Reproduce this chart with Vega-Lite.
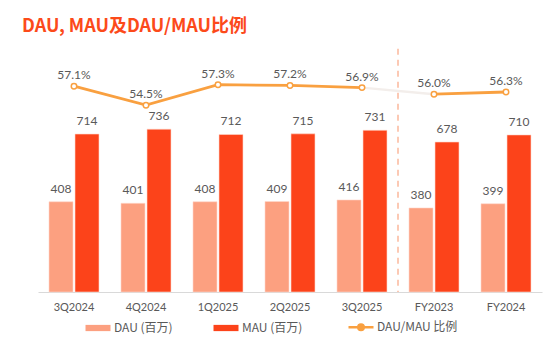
{
  "$schema": "https://vega.github.io/schema/vega-lite/v6.json",
  "width": 504,
  "height": 250,
  "autosize": "none",
  "padding": {"left": 38, "top": 42, "right": 16, "bottom": 60},
  "background": "white",
  "title": {
    "text": "DAU, MAU及DAU/MAU比例",
    "anchor": "start",
    "frame": "group",
    "dx": -16,
    "offset": 6,
    "font": "Noto Sans CJK SC",
    "fontSize": 18,
    "fontWeight": "bold",
    "color": "#FC4A1A"
  },
  "config": {
    "view": {"stroke": null},
    "font": "Lato",
    "axis": {"labelFont": "Lato", "labelColor": "#595959"},
    "legend": {"labelFont": "Noto Sans CJK SC", "labelColor": "#595959"}
  },
  "datasets": {
    "bars": [
      {"period": "3Q2024", "series": "DAU (百万)", "value": 408},
      {"period": "3Q2024", "series": "MAU (百万)", "value": 714},
      {"period": "4Q2024", "series": "DAU (百万)", "value": 401},
      {"period": "4Q2024", "series": "MAU (百万)", "value": 736},
      {"period": "1Q2025", "series": "DAU (百万)", "value": 408},
      {"period": "1Q2025", "series": "MAU (百万)", "value": 712},
      {"period": "2Q2025", "series": "DAU (百万)", "value": 409},
      {"period": "2Q2025", "series": "MAU (百万)", "value": 715},
      {"period": "3Q2025", "series": "DAU (百万)", "value": 416},
      {"period": "3Q2025", "series": "MAU (百万)", "value": 731},
      {"period": "FY2023", "series": "DAU (百万)", "value": 380},
      {"period": "FY2023", "series": "MAU (百万)", "value": 678},
      {"period": "FY2024", "series": "DAU (百万)", "value": 399},
      {"period": "FY2024", "series": "MAU (百万)", "value": 710}
    ],
    "ratio": [
      {"period": "3Q2024", "ratio": 0.571, "seg": "A"},
      {"period": "4Q2024", "ratio": 0.545, "seg": "A"},
      {"period": "1Q2025", "ratio": 0.573, "seg": "A"},
      {"period": "2Q2025", "ratio": 0.572, "seg": "A"},
      {"period": "3Q2025", "ratio": 0.569, "seg": "A"},
      {"period": "FY2023", "ratio": 0.560, "seg": "B"},
      {"period": "FY2024", "ratio": 0.563, "seg": "B"}
    ],
    "gap": [
      {"period": "3Q2025", "ratio": 0.569},
      {"period": "FY2023", "ratio": 0.560}
    ],
    "divider": [
      {"period": "FY2023", "top": 1100, "bottom": 0}
    ]
  },
  "encoding": {
    "x": {
      "field": "period",
      "type": "nominal",
      "sort": null,
      "scale": {"domain": ["3Q2024", "4Q2024", "1Q2025", "2Q2025", "3Q2025", "FY2023", "FY2024"], "paddingInner": 0, "paddingOuter": 0},
      "axis": {
        "title": null,
        "labelAngle": 0,
        "ticks": false,
        "labelPadding": 9,
        "labelFontSize": 11,
        "domainColor": "#D9D9D9",
        "domainWidth": 1
      }
    }
  },
  "layer": [
    {
      "data": {"name": "bars"},
      "layer": [
        {
          "mark": {"type": "bar", "stroke": "#FFD9CC", "strokeWidth": 0.6},
          "encoding": {
            "xOffset": {"field": "series", "type": "nominal", "scale": {"paddingInner": 0.077, "paddingOuter": 0.423}},
            "y": {"field": "value", "type": "quantitative", "scale": {"domain": [0, 1130], "nice": false}, "axis": null},
            "color": {
              "field": "series",
              "type": "nominal",
              "scale": {"domain": ["DAU (百万)", "MAU (百万)", "DAU/MAU 比例"], "range": ["#FCA080", "#FC431A", "#F9A040"]},
              "legend": {
                "title": null,
                "orient": "none",
                "legendX": 54,
                "legendY": 279,
                "direction": "horizontal",
                "labelFontSize": 12,
                "symbolSize": 625,
                "columnPadding": 40,
                "labelOffset": 10,
                "symbolStrokeWidth": 2.5,
                "encode": {
                  "symbols": {
                    "update": {
                      "shape": {"signal": "datum.value === 'DAU/MAU 比例' ? 'M-1,0H-0.22M0.22,0H1M-0.22,0A0.22,0.22 0 1,1 0.22,0A0.22,0.22 0 1,1 -0.22,0Z' : 'M-1,-0.25H1V0.25H-1Z'"},
                      "fill": {"signal": "datum.value === 'DAU/MAU 比例' ? '#ffffff' : (datum.value === 'DAU (百万)' ? '#FCA080' : '#FC431A')"},
                      "stroke": {"signal": "datum.value === 'DAU/MAU 比例' ? '#F9A040' : (datum.value === 'DAU (百万)' ? '#FCA080' : '#FC431A')"},
                      "strokeWidth": {"signal": "datum.value === 'DAU/MAU 比例' ? 2.5 : 0"},
                      "opacity": {"value": 1}
                    }
                  }
                }
              }
            }
          }
        },
        {
          "mark": {"type": "text", "baseline": "bottom", "dy": -6, "fontSize": 12, "color": "#595959", "font": "Lato"},
          "encoding": {
            "xOffset": {"field": "series", "type": "nominal", "scale": {"paddingInner": 0.077, "paddingOuter": 0.423}},
            "y": {"field": "value", "type": "quantitative"},
            "text": {"field": "value", "type": "quantitative"}
          }
        },
        {
          "data": {"name": "divider"},
          "mark": {"type": "rule", "color": "#FCB89C", "strokeWidth": 1.5, "strokeDash": [6, 5]},
          "encoding": {
            "x": {"field": "period", "type": "nominal", "bandPosition": 0},
            "y": {"field": "top", "type": "quantitative"},
            "y2": {"field": "bottom"}
          }
        }
      ]
    },
    {
      "layer": [
        {
          "data": {"name": "gap"},
          "mark": {"type": "line", "color": "#F3EEEB", "strokeWidth": 2.5},
          "encoding": {
            "y": {"field": "ratio", "type": "quantitative", "scale": {"domain": [0.289, 0.6315], "nice": false}, "axis": null}
          }
        },
        {
          "data": {"name": "ratio"},
          "mark": {"type": "line", "strokeWidth": 2.8},
          "encoding": {
            "y": {"field": "ratio", "type": "quantitative"},
            "detail": {"field": "seg"},
            "color": {
              "datum": "DAU/MAU 比例",
              "legend": {
                "title": null,
                "orient": "none",
                "legendX": 54,
                "legendY": 279,
                "direction": "horizontal",
                "labelFontSize": 12,
                "symbolSize": 625,
                "columnPadding": 40,
                "labelOffset": 10,
                "symbolStrokeWidth": 2.5,
                "encode": {
                  "symbols": {
                    "update": {
                      "shape": {"signal": "datum.value === 'DAU/MAU 比例' ? 'M-1,0H-0.22M0.22,0H1M-0.22,0A0.22,0.22 0 1,1 0.22,0A0.22,0.22 0 1,1 -0.22,0Z' : 'M-1,-0.25H1V0.25H-1Z'"},
                      "fill": {"signal": "datum.value === 'DAU/MAU 比例' ? '#ffffff' : (datum.value === 'DAU (百万)' ? '#FCA080' : '#FC431A')"},
                      "stroke": {"signal": "datum.value === 'DAU/MAU 比例' ? '#F9A040' : (datum.value === 'DAU (百万)' ? '#FCA080' : '#FC431A')"},
                      "strokeWidth": {"signal": "datum.value === 'DAU/MAU 比例' ? 2.5 : 0"},
                      "opacity": {"value": 1}
                    }
                  }
                }
              }
            }
          }
        },
        {
          "data": {"name": "ratio"},
          "mark": {"type": "point", "filled": true, "fill": "white", "stroke": "#F9A040", "strokeWidth": 1.5, "size": 30, "opacity": 1},
          "encoding": {
            "y": {"field": "ratio", "type": "quantitative"}
          }
        },
        {
          "data": {"name": "ratio"},
          "mark": {"type": "text", "baseline": "bottom", "dy": -4, "fontSize": 12, "color": "#595959", "font": "Lato"},
          "encoding": {
            "y": {"field": "ratio", "type": "quantitative"},
            "text": {"field": "ratio", "type": "quantitative", "format": ".1%"}
          }
        }
      ]
    }
  ],
  "resolve": {"scale": {"y": "independent"}}
}
